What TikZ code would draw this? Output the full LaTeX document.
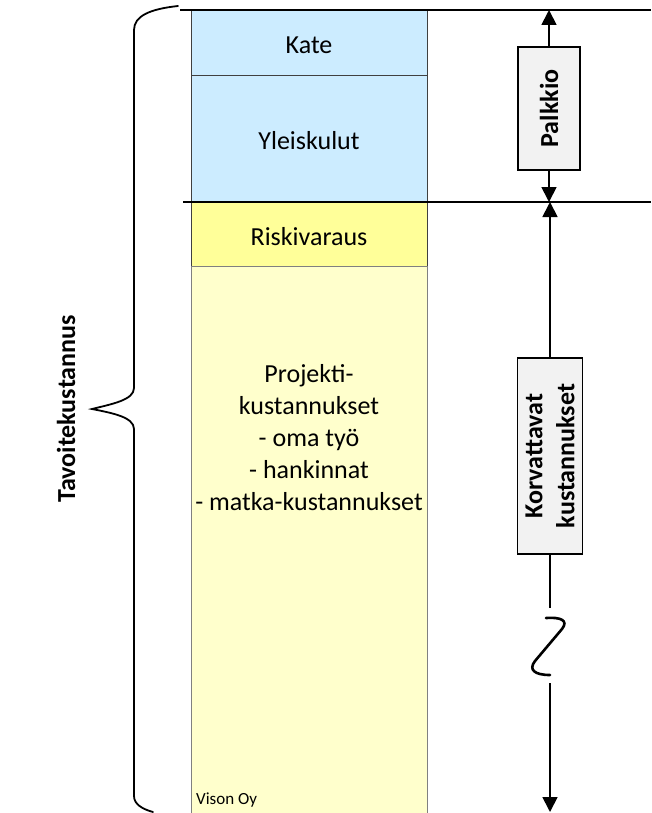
\documentclass[tikz,border=0pt]{standalone}
\usepackage{fontspec}
\setmainfont{Carlito}
\usetikzlibrary{arrows.meta}
\definecolor{topblue}{HTML}{CCECFF}
\definecolor{riskyellow}{HTML}{FFFF99}
\definecolor{projyellow}{HTML}{FFFFCC}
\definecolor{labelgray}{HTML}{F2F2F2}
\tikzset{
  colbox/.style={draw=black!75, line width=1pt, inner sep=0pt, anchor=north west, minimum width=236pt},
  coltext/.style={font=\fontsize{26}{32}\selectfont, align=center},
  sidebox/.style={draw=black, line width=1.6pt, fill=labelgray, rotate=90, inner sep=0pt,
     font=\fontsize{26}{32}\selectfont\bfseries, align=center},
  dimline/.style={line width=1.8pt},
  dimarrow/.style={line width=1.8pt, -{Triangle[length=15pt,width=15pt]}},
  levelline/.style={line width=1.4pt},
  bracepath/.style={line width=1.8pt, line cap=round}
}
\begin{document}
\begin{tikzpicture}[x=1pt,y=-1pt]
\useasboundingbox (0,0) rectangle (651,813);
% column
\node[colbox, fill=topblue, minimum height=65pt] (kate) at (191,10) {};
\node[coltext] (katet) at (309,45) {Kate};
\node[colbox, fill=topblue, minimum height=127pt] (yleis) at (191,75) {};
\node[coltext] (yleist) at (309,141) {Yleiskulut};
\node[colbox, fill=riskyellow, minimum height=64pt] (risk) at (191,202) {};
\node[coltext] (riskt) at (309,237) {Riskivaraus};
\node[colbox, draw=black!50, fill=projyellow, minimum height=560pt] (proj) at (191,266) {};
\node[coltext] (projt) at (309,438) {Projekti-\\kustannukset\\- oma työ\\- hankinnat\\- matka-kustannukset};
\node[font=\fontsize{17}{20}\selectfont, anchor=south west, inner sep=0pt] (vison) at (196,807) {Vison Oy};
% level lines
\coordinate (l1a) at (180,10);
\coordinate (l1b) at (651,10);
\coordinate (l2a) at (183,202);
\coordinate (l2b) at (651,202);
\draw[levelline] (l1a) -- (l1b);
\draw[levelline] (l2a) -- (l2b);
% Palkkio
\node[sidebox, minimum width=123pt, minimum height=62pt] (palkkio) at (549,108.5) {Palkkio};
\coordinate (ptop) at (549,10);
\coordinate (pbot) at (549,202);
\draw[dimarrow] (palkkio.east) -- (ptop);
\draw[dimarrow] (palkkio.west) -- (pbot);
% Korvattavat
\node[sidebox, minimum width=196pt, minimum height=65pt] (korv) at (550,456) {Korvattavat\\kustannukset};
\coordinate (ktop) at (550,202);
\coordinate (kbreak1) at (550,608);
\coordinate (kbreak2) at (550,683);
\coordinate (kbot) at (550,812);
\draw[dimarrow] (korv.east) -- (ktop);
\draw[dimline] (korv.west) -- (kbreak1);
\draw[line width=2.6pt, line cap=round] (546,618) .. controls (560,617) and (569,620) .. (562,629)
   -- (535,661) .. controls (528,670) and (535,675) .. (550,675);
\draw[dimarrow] (kbreak2) -- (kbot);
% brace
\draw[bracepath] (178,6) .. controls (150,9) and (134,16) .. (134,30)
  -- (134,388) .. controls (134,400) and (112,404) .. (92,409)
  .. controls (112,413) and (134,417) .. (134,429)
  -- (134,796) .. controls (134,804) and (142,809) .. (153,812);
\node[rotate=90, font=\fontsize{26}{32}\selectfont\bfseries] (tavoite) at (66,409) {Tavoitekustannus};
\end{tikzpicture}
\end{document}
